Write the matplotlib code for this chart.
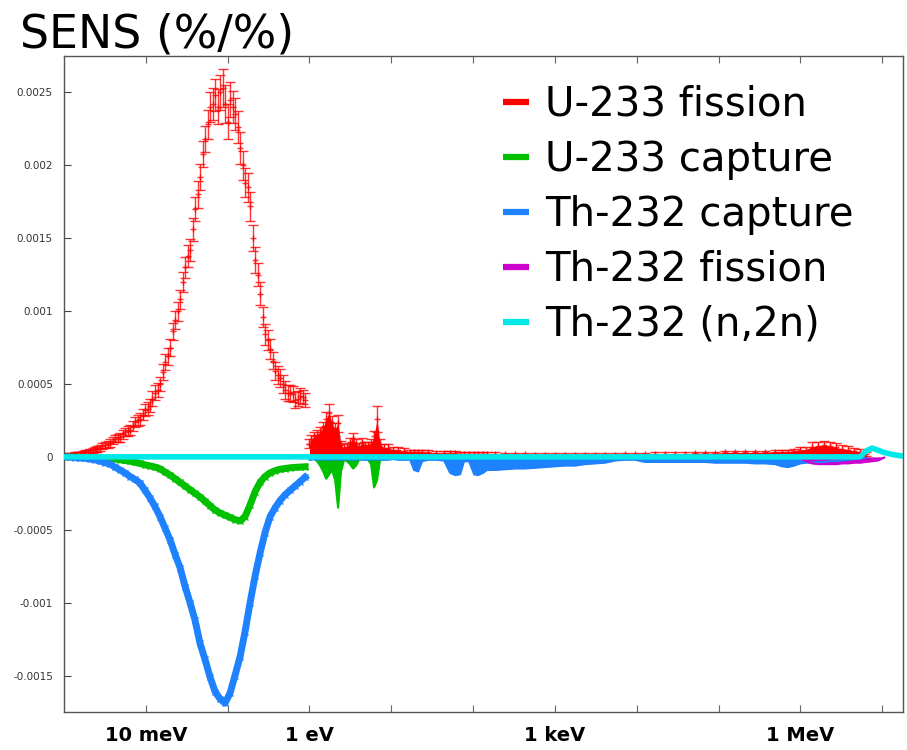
import numpy as np
import matplotlib
matplotlib.use('Agg')
import matplotlib.pyplot as plt
from matplotlib.lines import Line2D
from matplotlib.ticker import FixedLocator, FixedFormatter, NullLocator

# sensitivities are listed in units of 1e-4 (%/%)
SCALE = 1e-4

# thermal range energies (eV)
e_th = [1.03e-3, 1.18e-3, 1.36e-3, 1.57e-3, 1.81e-3, 2.08e-3, 2.39e-3, 2.75e-3,
        3.17e-3, 3.65e-3, 4.20e-3, 4.84e-3, 5.57e-3, 6.41e-3, 7.38e-3, 8.49e-3,
        9.78e-3, 1.12e-2, 1.29e-2, 1.49e-2, 1.72e-2, 1.98e-2, 2.28e-2, 2.62e-2,
        3.02e-2, 3.47e-2, 3.99e-2, 4.60e-2, 5.29e-2, 6.09e-2, 7.01e-2, 8.07e-2,
        9.29e-2, 0.107, 0.123, 0.142, 0.163, 0.188, 0.216, 0.249, 0.286, 0.330,
        0.380, 0.437, 0.503, 0.579, 0.667, 0.767, 0.883]

u233_fis_th = [0.10, 0.14, 0.18, 0.22, 0.32, 0.38, 0.52, 0.60, 0.80, 0.95, 1.25,
               1.35, 1.70, 1.85, 2.40, 2.60, 3.20, 3.50, 4.40, 5.00, 6.50, 7.50,
               9.40, 10.8, 13.0, 14.2, 17.0, 19.2, 21.8, 24.0, 24.8, 25.0, 24.2,
               24.5, 23.5, 21.2, 18.8, 17.2, 13.5, 11.2, 8.40, 7.40, 5.90, 5.40,
               4.60, 4.40, 3.90, 4.20, 3.90]
u233_fis_th_err = [0.1, 0.1, 0.12, 0.12, 0.15, 0.15, 0.18, 0.2, 0.2, 0.25, 0.25,
                   0.3, 0.3, 0.35, 0.35, 0.4, 0.4, 0.45, 0.5, 0.5, 0.55, 0.6, 0.6,
                   0.65, 0.7, 0.75, 0.8, 0.9, 0.9, 1.0, 1.1, 1.2, 1.3, 1.2, 1.1,
                   1.1, 1.0, 1.0, 0.9, 0.8, 0.7, 0.7, 0.6, 0.6, 0.6, 0.55, 0.55,
                   0.5, 0.5]

# second set of U-233 fission groups, between the ones above
e_th2 = [1.10e-3, 1.27e-3, 1.46e-3, 1.69e-3, 1.94e-3, 2.23e-3, 2.56e-3, 2.95e-3,
         3.40e-3, 3.92e-3, 4.51e-3, 5.19e-3, 5.98e-3, 6.88e-3, 7.92e-3, 9.11e-3,
         1.05e-2, 1.20e-2, 1.39e-2, 1.60e-2, 1.85e-2, 2.12e-2, 2.44e-2, 2.81e-2,
         3.24e-2, 3.72e-2, 4.28e-2, 4.93e-2, 5.68e-2, 6.53e-2, 7.52e-2, 8.66e-2,
         9.97e-2, 0.115, 0.132, 0.152, 0.175, 0.202, 0.232, 0.267, 0.307, 0.354,
         0.408, 0.469, 0.540, 0.622, 0.715, 0.823]
u233_fis_th2 = [0.12, 0.16, 0.20, 0.28, 0.34, 0.46, 0.55, 0.72, 0.85, 1.10, 1.30,
                1.55, 1.75, 2.10, 2.50, 2.90, 3.30, 4.00, 4.60, 5.80, 6.90, 8.60,
                10.0, 12.0, 13.8, 15.6, 18.0, 20.8, 22.8, 24.2, 24.0, 25.3, 23.0,
                24.0, 22.6, 20.0, 18.5, 15.0, 12.5, 9.6, 8.0, 6.6, 5.6, 5.0, 4.4,
                4.3, 4.0, 4.1]
u233_fis_th2_err = [0.1, 0.12, 0.12, 0.15, 0.15, 0.18, 0.2, 0.2, 0.25, 0.25, 0.3,
                    0.3, 0.35, 0.35, 0.4, 0.4, 0.45, 0.5, 0.5, 0.55, 0.6, 0.6,
                    0.65, 0.7, 0.75, 0.8, 0.9, 0.9, 1.0, 1.1, 1.2, 1.3, 1.2, 1.1,
                    1.1, 1.0, 1.0, 0.9, 0.8, 0.7, 0.7, 0.6, 0.6, 0.6, 0.55, 0.55,
                    0.5, 0.5]

u233_cap_th = [0, 0, 0, -0.02, -0.03, -0.05, -0.06, -0.08, -0.1, -0.12, -0.15,
               -0.2, -0.25, -0.3, -0.38, -0.45, -0.55, -0.62, -0.7, -0.82, -1.05,
               -1.25, -1.5, -1.75, -2.0, -2.25, -2.5, -2.75, -3.05, -3.35, -3.65,
               -3.85, -4.0, -4.15, -4.3, -4.4, -4.1, -3.3, -2.4, -1.75, -1.35,
               -1.1, -0.95, -0.85, -0.8, -0.75, -0.72, -0.7, -0.68]
th232_cap_th = [0, -0.02, -0.05, -0.08, -0.1, -0.15, -0.2, -0.3, -0.4, -0.5, -0.7,
                -0.9, -1.1, -1.35, -1.55, -1.8, -2.3, -2.8, -3.4, -4.1, -4.9, -5.7,
                -6.7, -7.6, -8.9, -10.0, -11.2, -12.8, -13.9, -15.1, -16.1, -16.6,
                -16.9, -16.2, -15.0, -13.7, -12.0, -10.0, -8.2, -6.6, -5.2, -4.1,
                -3.5, -3.0, -2.6, -2.3, -2.0, -1.7, -1.4]

# resonance and fast range energies (eV)
e_hi = [1.00, 1.05, 1.14, 1.24, 1.35, 1.47, 1.60, 1.74, 1.89, 2.06, 2.24, 2.43,
        2.65, 2.88, 3.13, 3.41, 3.71, 4.04, 4.40, 4.79, 5.20, 5.66, 6.16, 6.70,
        7.29, 8.17, 9.14, 10.5, 12.1, 14.3, 17.0, 19.0, 21.3, 23.8, 28.2,
        35.3, 44.2, 52.4, 60.3, 69.3, 77.6, 89.3, 103, 115, 132, 148,
        186, 246, 326, 432, 573, 759, 1.00e3, 1.33e3, 1.77e3, 2.34e3, 3.10e3,
        4.11e3, 5.45e3, 7.22e3, 9.56e3, 1.27e4, 1.68e4, 2.22e4, 2.95e4, 3.91e4,
        5.18e4, 6.86e4, 9.08e4, 1.20e5, 1.60e5, 2.11e5, 2.80e5, 3.71e5, 4.92e5,
        6.00e5, 7.10e5, 8.40e5, 9.95e5, 1.18e6, 1.39e6, 1.65e6, 1.95e6, 2.31e6,
        2.74e6, 3.24e6, 3.84e6, 4.55e6, 5.38e6, 6.37e6]

u233_fis_hi = [0.9, 1.2, 1.4, 1.5, 1.7, 2.0, 2.6, 3.0, 2.3, 1.9, 2.3, 0.8, 0.6,
               0.7, 1.0, 1.3, 0.9, 0.7, 1.0, 0.8, 0.8, 0.9, 1.4, 2.6, 0.9,
               0.6, 0.6, 0.5, 0.45, 0.4, 0.35, 0.35, 0.3, 0.3, 0.3,
               0.28, 0.28, 0.25, 0.25, 0.22, 0.22, 0.2, 0.2, 0.2, 0.2, 0.2,
               0.2, 0.18, 0.18, 0.18, 0.15, 0.15, 0.15, 0.15, 0.15, 0.15, 0.15,
               0.15, 0.15, 0.18, 0.18, 0.18, 0.2, 0.2, 0.22, 0.22, 0.25, 0.25,
               0.25, 0.3, 0.3, 0.3, 0.3, 0.32, 0.35,
               0.35, 0.35, 0.4, 0.45, 0.5, 0.7, 0.75, 0.8, 0.75, 0.65, 0.55,
               0.5, 0.4, 0.35, 0.2]
u233_fis_hi_err = [0.3, 0.3, 0.3, 0.35, 0.35, 0.4, 0.5, 0.6, 0.5, 0.45, 0.6, 0.3,
                   0.25, 0.25, 0.3, 0.35, 0.3, 0.25, 0.3, 0.25, 0.25, 0.3, 0.4,
                   0.9, 0.3,
                   0.25, 0.25, 0.2, 0.2, 0.2, 0.15, 0.15, 0.15, 0.15, 0.15,
                   0.12, 0.12, 0.12, 0.12, 0.12, 0.12, 0.12, 0.12, 0.12, 0.12, 0.12,
                   0.1, 0.1, 0.1, 0.1, 0.1, 0.1, 0.1, 0.1, 0.1, 0.1, 0.1, 0.1,
                   0.1, 0.1, 0.1, 0.1, 0.1, 0.1, 0.1, 0.1, 0.1, 0.1, 0.1, 0.1,
                   0.1, 0.1, 0.1, 0.1, 0.1,
                   0.15, 0.15, 0.15, 0.2, 0.2, 0.3, 0.3, 0.3, 0.3, 0.3, 0.25,
                   0.25, 0.2, 0.2, 0.15]
# U-233 capture only up to ~30 eV
u233_cap_hi = [-0.1, -0.1, -0.15, -0.3, -0.6, -1.0, -1.5, -1.2, -0.9, -1.6, -3.5,
               -1.0, -0.2, -0.3, -0.5, -0.8, -0.6, -0.2, -0.15, -0.15, -0.2, -0.5,
               -2.1, -1.6, -0.2,
               -0.1, -0.1, -0.08, -0.06, -0.05, -0.05, -0.05, -0.04, -0.04, -0.04]
th232_cap_hi = [-0.2, -0.2, -0.15, -0.2, -0.2, -0.15, -0.2, -0.2, -0.2, -0.15,
                -0.2, -0.2, -0.2, -0.15, -0.2, -0.2, -0.2, -0.15, -0.2, -0.2,
                -0.2, -0.2, -0.15, -0.2, -0.2,
                -0.2, -0.2, -0.15, -0.2, -0.2, -0.2, -0.9, -1.0, -0.3, -0.2,
                -0.2, -0.25, -1.1, -1.25, -1.2, -0.3, -0.3, -1.2, -1.25, -1.1, -0.9,
                -0.9, -0.85, -0.8, -0.8, -0.75, -0.7, -0.65, -0.6, -0.6, -0.5,
                -0.45, -0.4, -0.25, -0.2, -0.2, -0.35, -0.35, -0.35, -0.35, -0.35,
                -0.35, -0.35, -0.4, -0.4, -0.4, -0.4, -0.45, -0.45, -0.5,
                -0.65, -0.7, -0.6, -0.45, -0.4, -0.4, -0.35, -0.35, -0.3, -0.3,
                -0.25, -0.2, -0.15, -0.1, -0.05]

e_th232_fis = [9.95e5, 1.18e6, 1.39e6, 1.65e6, 1.95e6, 2.31e6, 2.74e6, 3.24e6,
               3.84e6, 4.55e6, 5.38e6, 6.37e6, 7.55e6, 8.94e6, 1.06e7]
th232_fis = [-0.1, -0.3, -0.45, -0.5, -0.5, -0.5, -0.5, -0.45, -0.45, -0.4, -0.4,
             -0.35, -0.3, -0.25, -0.05]

e_n2n = [1.0e-3, 5.38e6, 6.37e6, 7.55e6, 8.94e6, 1.06e7, 1.25e7, 1.48e7, 1.75e7]
th232_n2n = [0, 0, 0.4, 0.6, 0.45, 0.3, 0.2, 0.12, 0.06]

labels = ['U-233 fission', 'U-233 capture', 'Th-232 capture', 'Th-232 fission',
          'Th-232 (n,2n)']
colors = ['#ff0000', '#00c000', '#1e82ff', '#cc00cc', '#00e8e8']

xtick_vals = [1e-2, 1e-1, 1, 10, 100, 1e3, 1e4, 1e5, 1e6, 1e7]
xtick_labels = ['10 meV', '', '1 eV', '', '', '1 keV', '', '', '1 MeV', '']
ytick_vals = [-0.0015, -0.001, -0.0005, 0, 0.0005, 0.001, 0.0015, 0.002, 0.0025]
ytick_labels = ['-0.0015', '-0.001', '-0.0005', '0', '0.0005', '0.001', '0.0015',
                '0.002', '0.0025']


def sc(v):
    return np.array(v) * SCALE


fig = plt.figure(figsize=(9.07, 7.5), dpi=100)
ax = fig.add_axes([0.0706, 0.0507, 0.925, 0.8747])

red, green, blue, purple, cyan = colors

# U-233 fission with error bars
eb = dict(fmt='+', color=red, ms=4, mew=1, elinewidth=1, capsize=3.5,
          capthick=1, alpha=0.8)
ax.errorbar(e_th, sc(u233_fis_th), yerr=sc(u233_fis_th_err), **eb)
ax.errorbar(e_th2, sc(u233_fis_th2), yerr=sc(u233_fis_th2_err), **eb)
ax.fill_between(e_hi, 0, sc(u233_fis_hi), color=red, lw=0)
ax.errorbar(e_hi, sc(u233_fis_hi), yerr=sc(u233_fis_hi_err), **eb)

# U-233 capture
ax.plot(e_th, sc(u233_cap_th), color=green, lw=5, marker='x', ms=5, mew=1)
ax.fill_between(e_hi[:len(u233_cap_hi)], 0, sc(u233_cap_hi), color=green, lw=0)
ax.plot(e_hi[:len(u233_cap_hi)], sc(u233_cap_hi), color=green, lw=1.5)

# Th-232 capture
ax.plot(e_th, sc(th232_cap_th), color=blue, lw=5, marker='x', ms=5, mew=1)
ax.fill_between(e_hi, 0, sc(th232_cap_hi), color=blue, lw=0)
ax.plot(e_hi, sc(th232_cap_hi), color=blue, lw=1.5)

# Th-232 fission
ax.fill_between(e_th232_fis, 0, sc(th232_fis), color=purple, lw=0)
ax.plot(e_th232_fis, sc(th232_fis), color=purple, lw=1.5)

# Th-232 (n,2n)
ax.plot(e_n2n, sc(th232_n2n), color=cyan, lw=4, zorder=5)

ax.set_xscale('log')
ax.set_xlim(1e-3, 1.8e7)
ax.set_ylim(-0.00175, 0.00275)

ax.xaxis.set_major_locator(FixedLocator(xtick_vals))
ax.xaxis.set_major_formatter(FixedFormatter(xtick_labels))
ax.xaxis.set_minor_locator(NullLocator())
ax.yaxis.set_major_locator(FixedLocator(ytick_vals))
ax.yaxis.set_major_formatter(FixedFormatter(ytick_labels))

ax.tick_params(axis='x', direction='in', length=5, top=True, color='#666',
               pad=10, labelsize=14)
for lab in ax.get_xticklabels():
    lab.set_fontweight('bold')
ax.tick_params(axis='y', direction='in', length=5, color='#444', pad=8,
               labelsize=7.5, labelcolor='#333')
for sp in ax.spines.values():
    sp.set_color('#555')
    sp.set_linewidth(1)

handles = [Line2D([], [], color=c, lw=4.5, solid_capstyle='butt') for c in colors]
ax.legend(handles, labels, loc='upper left', bbox_to_anchor=(503 / 907, 1 - 85 / 750),
          bbox_transform=fig.transFigure, frameon=False, fontsize=29,
          handlelength=0.65, handletextpad=0.4, labelspacing=0.37,
          borderpad=0, borderaxespad=0)

fig.text(20 / 907, 1 - 47 / 750, 'SENS (%/%)', fontsize=33, va='baseline', ha='left')

fig.savefig('out.png', dpi=100)
